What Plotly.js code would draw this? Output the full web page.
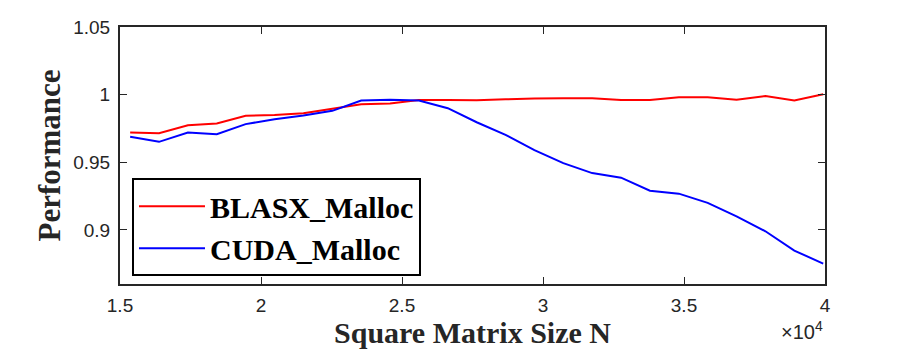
<!DOCTYPE html>
<html>
<head>
<meta charset="utf-8">
<script src="https://cdn.plot.ly/plotly-3.0.1.min.js"></script>
<style>
  html, body { margin: 0; padding: 0; background: #fff; }
  #chart { width: 913px; height: 350px; }
</style>
</head>
<body>
<div id="chart"></div>
<script>
// matrix sizes N (x axis)
const matrixSizes = [15360, 16384, 17408, 18432, 19456, 20480, 21504, 22528, 23552, 24576,
  25600, 26624, 27648, 28672, 29696, 30720, 31744, 32768, 33792, 34816,
  35840, 36864, 37888, 38912, 39936];

const blasxMalloc = [0.972, 0.9715, 0.9774, 0.9786, 0.9843, 0.985, 0.9863, 0.9895, 0.9929, 0.9934,
  0.9961, 0.9961, 0.9959, 0.9965, 0.9972, 0.9973, 0.9973, 0.9961, 0.9961, 0.998,
  0.998, 0.9963, 0.999, 0.9956, 1.0003];

const cudaMalloc = [0.9688, 0.9651, 0.972, 0.9708, 0.9782, 0.9818, 0.9845, 0.988, 0.9956, 0.9963,
  0.9956, 0.990, 0.9796, 0.9703, 0.959, 0.9494, 0.942, 0.9386, 0.929, 0.9268,
  0.920, 0.910, 0.899, 0.8847, 0.8751];

const xTickVals = [15000, 20000, 25000, 30000, 35000, 40000];
const xTickText = ['1.5', '2', '2.5', '3', '3.5', '4'];
const yTickVals = [0.9, 0.95, 1.0, 1.05];
const yTickText = ['0.9', '0.95', '1', '1.05'];

const axisColor = '#262626';
const serif = '"Liberation Serif", "Times New Roman", serif';
const sans = '"Liberation Sans", Arial, Helvetica, sans-serif';

const traces = [
  {
    x: matrixSizes, y: blasxMalloc,
    mode: 'lines', name: 'BLASX_Malloc',
    line: { color: '#ff0000', width: 2 }
  },
  {
    x: matrixSizes, y: cudaMalloc,
    mode: 'lines', name: 'CUDA_Malloc',
    line: { color: '#0000ff', width: 2 }
  }
];

const layout = {
  width: 913,
  height: 350,
  margin: { l: 120, r: 88, t: 27, b: 66 },
  paper_bgcolor: '#fff',
  plot_bgcolor: '#fff',
  showlegend: true,
  xaxis: {
    range: [15000, 40000],
    tickvals: xTickVals,
    ticktext: xTickText,
    ticks: 'inside',
    ticklen: 7,
    tickwidth: 1,
    tickcolor: axisColor,
    showline: true,
    linecolor: axisColor,
    linewidth: 2,
    mirror: 'allticks',
    showgrid: false,
    zeroline: false,
    tickfont: { family: sans, size: 19, color: axisColor },
    ticklabelstandoff: 3,
    title: {
      text: 'Square Matrix Size N',
      font: { family: serif, size: 30, color: axisColor, weight: 'bold' },
      standoff: 3
    },
    automargin: false
  },
  yaxis: {
    range: [0.86, 1.05],
    tickvals: yTickVals,
    ticktext: yTickText,
    ticks: 'inside',
    ticklen: 7,
    tickwidth: 1,
    tickcolor: axisColor,
    showline: true,
    linecolor: axisColor,
    linewidth: 2,
    mirror: 'allticks',
    showgrid: false,
    zeroline: false,
    tickfont: { family: sans, size: 19, color: axisColor },
    ticklabelstandoff: 4,
    title: {
      text: 'Performance',
      font: { family: serif, size: 31, color: axisColor, weight: 'bold' },
      standoff: 3
    },
    automargin: false
  },
  legend: {
    x: 0.017,
    y: 0.03,
    xanchor: 'left',
    yanchor: 'bottom',
    bgcolor: '#fff',
    bordercolor: '#000',
    borderwidth: 2,
    itemwidth: 66,
    font: { family: serif, size: 30, color: '#000', weight: 'bold' }
  },
  annotations: [{
    xref: 'paper', yref: 'paper',
    x: 1, y: -0.18,
    xanchor: 'right', yanchor: 'middle',
    text: '×10<sup>4</sup>',
    showarrow: false,
    font: { family: sans, size: 20, color: axisColor }
  }]
};

Plotly.newPlot('chart', traces, layout, { displayModeBar: false, staticPlot: true });
</script>
</body>
</html>
